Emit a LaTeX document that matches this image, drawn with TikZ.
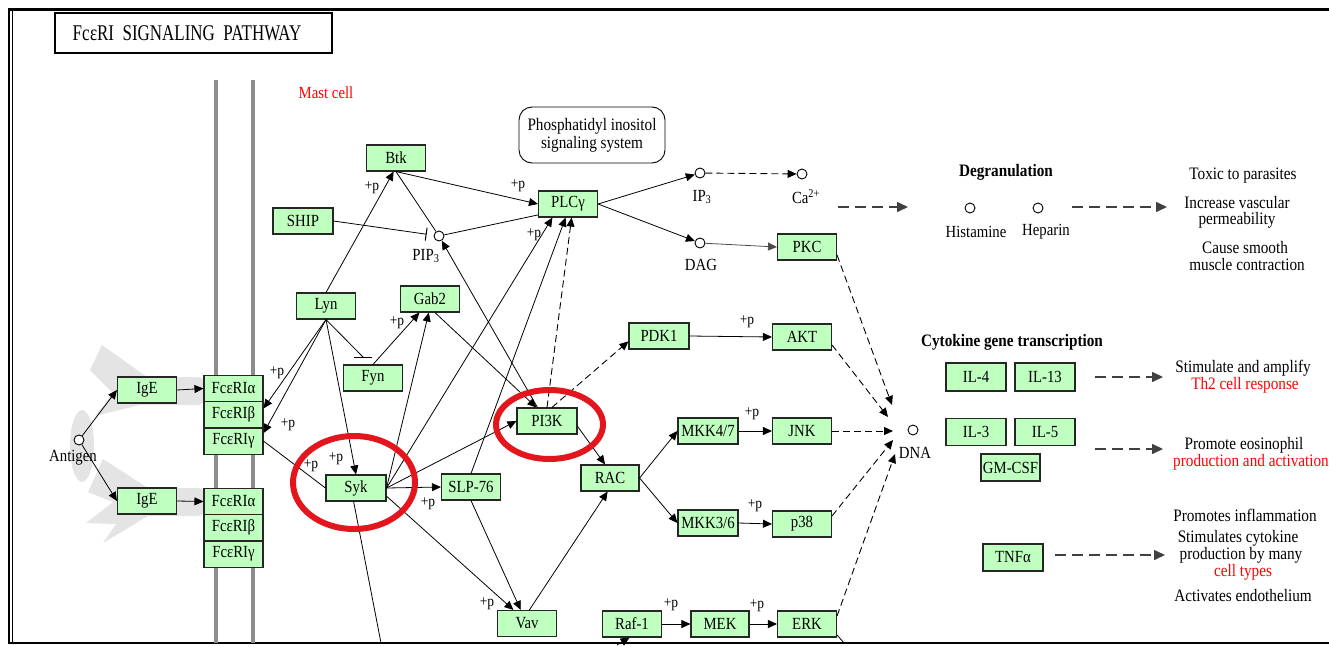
\documentclass[tikz,border=0pt]{standalone}
\usepackage{fontspec}
\setmainfont{Liberation Serif}[FakeStretch=0.87]
\usetikzlibrary{arrows.meta,shapes.geometric,calc}
\definecolor{kgreen}{HTML}{BFFFBF}
\definecolor{kred}{HTML}{E3161E}
\definecolor{memgray}{HTML}{8C8C8C}
\definecolor{lgshade}{HTML}{E4E4E4}
\begin{document}
\begin{tikzpicture}[x=1pt,y=-1pt,
 gbox/.style={draw=black!85, fill=kgreen, line width=1.1pt, minimum width=59pt, minimum height=26pt, inner sep=0pt, font=\fontsize{17}{18}\selectfont},
 cpd/.style={circle, draw=black, fill=white, line width=0.9pt, minimum size=10pt, inner sep=0pt},
 lbl/.style={font=\fontsize{17}{18}\selectfont, inner sep=0pt},
 pp/.style={font=\fontsize{15.5}{16}\selectfont, inner sep=0pt},
 rtxt/.style={font=\fontsize{17.5}{18}\selectfont, inner sep=0pt},
 arr/.style={line width=0.8pt, -{Triangle[length=9pt,width=8pt]}},
 plain/.style={line width=0.8pt},
 darr/.style={line width=0.9pt, dash pattern=on 7pt off 4pt, -{Triangle[length=9pt,width=8pt]}},
 bigd/.style={line width=1.5pt, draw=black!75, dash pattern=on 11pt off 6pt, -{Triangle[length=11pt,width=10pt]}},
 redring/.style={draw=kred, line width=6pt},
]
\useasboundingbox (0,0) rectangle (1329,645);
% frame
\draw[line width=3pt] (8,9) -- (1329,9);
\draw[line width=2.5pt] (9,8) -- (9,644);
\draw[line width=0.9pt] (12.5,11) -- (12.5,642);
\draw[line width=2.5pt] (8,643) -- (1329,643);
% title
\draw[line width=2pt] (55,13) rectangle (332,53);
\node[inner sep=0pt] (title) at (187,33) {\scalebox{1}[1.15]{\fontsize{19.5}{20}\selectfont Fc\kern0.5ptεRI\ \ SIGNALING\ \ PATHWAY}};
% shading
\fill[lgshade] (102,345) -- (147,377) -- (198,377) to[out=0,in=90] (206,391) to[out=-90,in=0] (198,405) -- (140,405) -- (95,416) -- (113,393) -- (90,370) -- cycle;
\fill[lgshade] (103,459) -- (148,488) -- (198,488) to[out=0,in=90] (206,502) to[out=-90,in=0] (198,516) -- (148,516) -- (103,543) -- (116,524) -- (86,523) -- (113,502) -- (88,492) -- cycle;
\fill[lgshade] (82,446) ellipse (12 and 36);
% membrane
\draw[memgray, line width=4pt] (216,80) -- (216,643);
\draw[memgray, line width=4pt] (253,80) -- (253,643);
\node[font=\fontsize{17}{18}\selectfont, text=red, inner sep=0pt] (mast) at (326,93) {Mast cell};
% boxes
\node[gbox] (IgE1) at (147,390) {IgE};
\node[gbox] (IgE2) at (147,501) {IgE};
\node[gbox] (FcA1) at (233.5,388.5) {FcεRIα};
\node[gbox] (FcB1) at (233.5,414.8) {FcεRIβ};
\node[gbox] (FcG1) at (233.5,441.1) {FcεRIγ};
\node[gbox] (FcA2) at (233.5,501.5) {FcεRIα};
\node[gbox] (FcB2) at (233.5,527.8) {FcεRIβ};
\node[gbox] (FcG2) at (233.5,554.1) {FcεRIγ};
\node[gbox] (Btk) at (396,158) {Btk};
\node[gbox,minimum width=60pt] (SHIP) at (303,221) {SHIP};
\node[gbox] (Lyn) at (326,306) {Lyn};
\node[gbox] (Gab2) at (430,299) {Gab2};
\node[gbox] (Fyn) at (373,378) {Fyn};
\node[gbox] (PLCg) at (568,204) {PLCγ};
\node[gbox] (PKC) at (807,247) {PKC};
\node[gbox,minimum width=60pt] (PDK1) at (659,336) {PDK1};
\node[gbox] (AKT) at (802,337) {AKT};
\node[gbox,minimum width=60pt] (PI3K) at (547,421) {PI3K};
\node[gbox,minimum width=58pt] (RAC) at (610,478) {RAC};
\node[gbox,minimum width=60pt] (MKK47) at (708,431) {MKK4/7};
\node[gbox,minimum width=60pt] (MKK36) at (708,523) {MKK3/6};
\node[gbox] (JNK) at (802,431) {JNK};
\node[gbox] (p38) at (802,524) {p38};
\node[gbox,minimum width=60pt] (Syk) at (356,488) {Syk};
\node[gbox] (SLP76) at (471,487) {SLP-76};
\node[gbox] (Vav) at (527,623.5) {Vav};
\node[gbox] (Raf1) at (632,624) {Raf-1};
\node[gbox,minimum width=58pt] (MEK) at (720,624) {MEK};
\node[gbox] (ERK) at (807,624) {ERK};
\node[gbox,minimum width=60pt,minimum height=28pt] (IL4) at (976,377) {IL-4};
\node[gbox,minimum width=60pt,minimum height=28pt] (IL13) at (1045,377) {IL-13};
\node[gbox,minimum width=60pt,minimum height=27pt] (IL3) at (976,432) {IL-3};
\node[gbox,minimum width=60pt,minimum height=27pt] (IL5) at (1045,432) {IL-5};
\node[gbox,minimum height=27pt] (GMCSF) at (1010.5,467.5) {GM-CSF};
\node[gbox,minimum width=60pt,minimum height=27pt] (TNFa) at (1013,557.5) {TNFα};
% compounds
\node[cpd] (Ag) at (79,440) {};
\node[lbl] (Agl) at (73,458) {Antigen};
\node[cpd] (PIP3) at (439,236) {};
\node[lbl] (PIP3l) at (426,256) {PIP\textsubscript{3}};
\node[cpd] (IP3) at (700,173) {};
\node[lbl] (IP3l) at (702,197) {IP\textsubscript{3}};
\node[cpd] (Ca) at (802,174) {};
\node[lbl] (Cal) at (806,197) {Ca\textsuperscript{2+}};
\node[cpd] (DAG) at (700,243) {};
\node[lbl] (DAGl) at (701,265) {DAG};
\node[cpd] (Hist) at (970,208) {};
\node[lbl] (Histl) at (976,232) {Histamine};
\node[cpd] (Hep) at (1038,208) {};
\node[lbl] (Hepl) at (1046,232) {Heparin};
\node[cpd] (DNA) at (913,430) {};
\node[lbl] (DNAl) at (915,453) {DNA};
% map box
\node[draw, rounded corners=13pt, line width=0.9pt, minimum width=146pt, minimum height=56pt, align=center, font=\fontsize{17.5}{18}\selectfont] (pis) at (592,135) {Phosphatidyl inositol\\signaling system};
% headers
\node[font=\bfseries\fontsize{17.5}{18}\selectfont, inner sep=0pt] (degr) at (1006,172) {Degranulation};
\node[font=\bfseries\fontsize{17.5}{18}\selectfont, inner sep=0pt] (cyto) at (1012,342) {Cytokine gene transcription};
% right texts
\node[rtxt] (r1) at (1243,176) {Toxic to parasites};
\node[rtxt] (r2) at (1237,203) {Increase vascular};
\node[rtxt] (r3) at (1237,220) {permeability};
\node[rtxt] (r4) at (1245,248) {Cause smooth};
\node[rtxt] (r5) at (1247,265) {muscle contraction};
\node[rtxt] (r6) at (1243,368) {Stimulate and amplify};
\node[rtxt, text=red] (r7) at (1245,385) {Th2 cell response};
\node[rtxt] (r8) at (1244,445) {Promote eosinophil};
\node[rtxt, text=red, anchor=west] (r9) at (1173,462) {production and activation};
\node[rtxt] (r10) at (1245,515) {Promotes inflammation};
\node[rtxt] (r11) at (1238,538) {Stimulates cytokine};
\node[rtxt] (r12) at (1241,555) {production by many};
\node[rtxt, text=red] (r13) at (1243,572) {cell types};
\node[rtxt] (r14) at (1243,596) {Activates endothelium};
% free coordinates
\coordinate (fynbar) at (363,357);
\coordinate (sykout) at (381,643);
\coordinate (rafin) at (617,645);
\coordinate (erkout) at (844,643);
\coordinate (ca1) at (838,207); \coordinate (ca2) at (908,207);
\coordinate (hp1) at (1072,207); \coordinate (hp2) at (1167,207);
\coordinate (il1a) at (1095,377); \coordinate (il1b) at (1163,377);
\coordinate (il2a) at (1095,449); \coordinate (il2b) at (1163,449);
\coordinate (tn1) at (1055,555); \coordinate (tn2) at (1165,555);
\coordinate (dA) at (892,405); \coordinate (dB) at (888,417);
\coordinate (dC) at (893,431); \coordinate (dD) at (893,440);
\coordinate (dE) at (895,454);
% connectors
\draw[arr] (Ag) -- (IgE1.west);
\draw[arr] (Ag) -- (IgE2.west);
\draw[arr] (IgE1.east) -- (FcA1.west);
\draw[arr] (IgE2.east) -- (FcA2.west);
\draw[arr] (Lyn.south) -- (FcB1.12);
\draw[arr] (Lyn.south) -- (FcG1.15);
\draw[plain] (FcG1.east) -- (Syk.west);
\draw[arr] (Lyn.south) -- (Syk.north);
\draw[plain] (Lyn.south) -- (fynbar);
\draw[plain, line width=1pt] (fynbar) ++(-9,0) -- ++(18,0);
\draw[arr] (Fyn.north) -- (Gab2.-128);
\draw[arr] (Syk.east) -- (Gab2.-95);
\draw[arr] (Lyn.north) -- (Btk.-100);
\draw[arr] (Btk.south) -- (PLCg.west);
\draw[plain] (Btk.south) -- (PIP3);
\draw[plain, -{Bar[width=13pt, line width=1pt]}, shorten >=7pt] (SHIP.east) -- (PIP3);
\draw[plain] (PIP3) -- (PLCg.200);
\draw[arr] (PI3K.125) -- (PIP3);
\draw[arr] (Gab2.-70) -- (PI3K.128);
\draw[arr] (Syk.east) -- (PI3K.west);
\draw[arr] (Syk.east) -- (PLCg.-139);
\draw[arr] (SLP76.north) -- (PLCg.-100);
\draw[darr] (PI3K.north) -- (PLCg.-75);
\draw[arr] (Syk.east) -- (SLP76.west);
\draw[arr] (Syk.-15) -- (Vav.135);
\draw[arr] (SLP76.south) -- (Vav.115);
\draw[arr] (Vav.80) -- (RAC.-100);
\draw[arr] (PI3K.-10) -- (RAC.110);
\draw[darr] (PI3K.70) -- (PDK1.190);
\draw[arr] (PDK1.east) -- (AKT.west);
\draw[arr] (PLCg.east) -- (IP3);
\draw[arr] (PLCg.east) -- (DAG);
\draw[darr] (IP3) -- (Ca);
\draw[arr, draw=black!70] (DAG) -- (PKC.west);
\draw[arr] (RAC.east) -- (MKK47.west);
\draw[arr] (RAC.east) -- (MKK36.west);
\draw[arr] (MKK47.east) -- (JNK.west);
\draw[arr] (MKK36.east) -- (p38.west);
\draw[arr] (Raf1.east) -- (MEK.west);
\draw[arr] (MEK.east) -- (ERK.west);
\draw[plain] (Syk.-100) -- (sykout);
\draw[arr] (rafin) -- (Raf1.-100);
\draw[plain] (ERK.-20) -- (erkout);
\draw[darr] (PKC.-15) -- (dA);
\draw[darr] (AKT.-15) -- (dB);
\draw[darr] (JNK.east) -- (dC);
\draw[darr] (p38.15) -- (dD);
\draw[darr] (ERK.15) -- (dE);
\draw[bigd] (ca1) -- (ca2);
\draw[bigd] (hp1) -- (hp2);
\draw[bigd] (il1a) -- (il1b);
\draw[bigd] (il2a) -- (il2b);
\draw[bigd] (tn1) -- (tn2);
% +p labels
\node[pp] (p1) at (277,373) {+p};
\node[pp] (p2) at (288,425) {+p};
\node[pp] (p3) at (311,466) {+p};
\node[pp] (p4) at (336,459) {+p};
\node[pp] (p5) at (372,188) {+p};
\node[pp] (p6) at (397,323) {+p};
\node[pp] (p7) at (518,186) {+p};
\node[pp] (p8) at (534,235) {+p};
\node[pp] (p9) at (428,504) {+p};
\node[pp] (p10) at (487,604) {+p};
\node[pp] (p11) at (747,322) {+p};
\node[pp] (p12) at (752,414) {+p};
\node[pp] (p13) at (755,506) {+p};
\node[pp] (p14) at (671,605) {+p};
\node[pp] (p15) at (757,606) {+p};
% red rings
\draw[redring] (354,482.5) ellipse (61 and 46.5);
\draw[redring] (549.5,424.5) ellipse (53.5 and 34.5);
\end{tikzpicture}
\end{document}
